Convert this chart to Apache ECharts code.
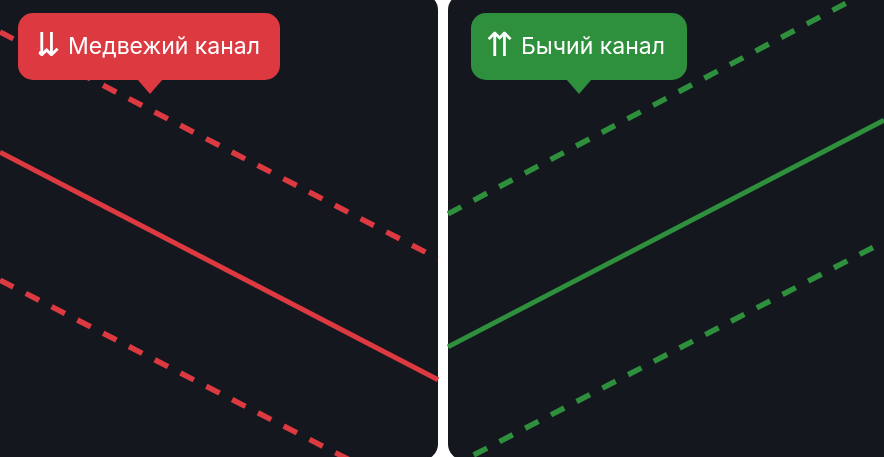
<!DOCTYPE html>
<html>
<head>
<meta charset="utf-8">
<script src="https://cdn.jsdelivr.net/npm/echarts@6/dist/echarts.min.js"></script>
<style>
  html, body { margin: 0; padding: 0; background: #ffffff; }
  #chart { width: 884px; height: 457px; }
</style>
</head>
<body>
<div id="chart"></div>
<script>
// x runs 0..100 across each panel, y 0..100 from bottom to top
var xs = [0, 100];

var bearUpper = [93.0, 43.4];
var bearMid = [66.7, 16.9];
var bearLower = [38.7, -10.6];

var bullUpper = [53.2, 103.7];
var bullMid = [24.1, 73.7];
var bullLower = [-2.5, 47.1];

var labels = ['Медвежий канал', 'Бычий канал'];
var arrows = ['\u21CA', '\u21C8'];

var red = '#dc3a40';
var green = '#2e8f3c';
var panelBg = '#15171e';

function pairs(ys) {
    return xs.map(function (x, i) { return [x, ys[i]]; });
}

function lineSeries(name, idx, ys, color, dashed) {
    return {
        name: name,
        type: 'line',
        xAxisIndex: idx,
        yAxisIndex: idx,
        data: pairs(ys),
        symbol: 'none',
        clip: true,
        silent: true,
        animation: false,
        lineStyle: {
            color: color,
            width: dashed ? 5.5 : 5,
            type: dashed ? [15, 14] : 'solid',
            cap: 'butt'
        }
    };
}

function axis(idx) {
    return {
        gridIndex: idx,
        type: 'value',
        min: 0,
        max: 100,
        show: false
    };
}

function bubble(x0, x1, tipX, color, arrow, text, arrowX, textX) {
    return {
        type: 'group',
        z: 100,
        children: [
            {
                type: 'rect',
                shape: { x: x0, y: 13, width: x1 - x0, height: 67, r: 15 },
                style: { fill: color }
            },
            {
                type: 'polygon',
                shape: { points: [[tipX - 13, 79], [tipX + 13, 79], [tipX, 94]] },
                style: { fill: color }
            },
            {
                type: 'text',
                x: arrowX,
                y: 47,
                style: {
                    text: arrow,
                    fill: '#ffffff',
                    font: '33px "DejaVu Sans"',
                    verticalAlign: 'middle'
                }
            },
            {
                type: 'text',
                x: textX,
                y: 47,
                style: {
                    text: text,
                    fill: '#ffffff',
                    font: '23px Inter, "Noto Sans", sans-serif',
                    verticalAlign: 'middle'
                }
            }
        ]
    };
}

var chart = echarts.init(document.getElementById('chart'));

var option = {
    backgroundColor: '#ffffff',
    animation: false,
    graphic: [
        {
            type: 'rect',
            z: -10,
            shape: { x: -30, y: -6, width: 468, height: 466, r: 16 },
            style: { fill: panelBg }
        },
        {
            type: 'rect',
            z: -10,
            shape: { x: 448, y: -6, width: 466, height: 466, r: 16 },
            style: { fill: panelBg }
        },
        bubble(18, 280, 150, red, arrows[0], labels[0], 33, 68),
        bubble(471, 687, 579, green, arrows[1], labels[1], 486, 521)
    ],
    grid: [
        { left: 0, top: 0, width: 438, height: 457 },
        { left: 448, top: 0, width: 436, height: 457 }
    ],
    xAxis: [axis(0), axis(1)],
    yAxis: [axis(0), axis(1)],
    series: [
        lineSeries('bearUpper', 0, bearUpper, red, true),
        lineSeries('bearMid', 0, bearMid, red, false),
        lineSeries('bearLower', 0, bearLower, red, true),
        lineSeries('bullUpper', 1, bullUpper, green, true),
        lineSeries('bullMid', 1, bullMid, green, false),
        lineSeries('bullLower', 1, bullLower, green, true)
    ]
};

chart.setOption(option);
window.onresize = chart.resize;
</script>
</body>
</html>
